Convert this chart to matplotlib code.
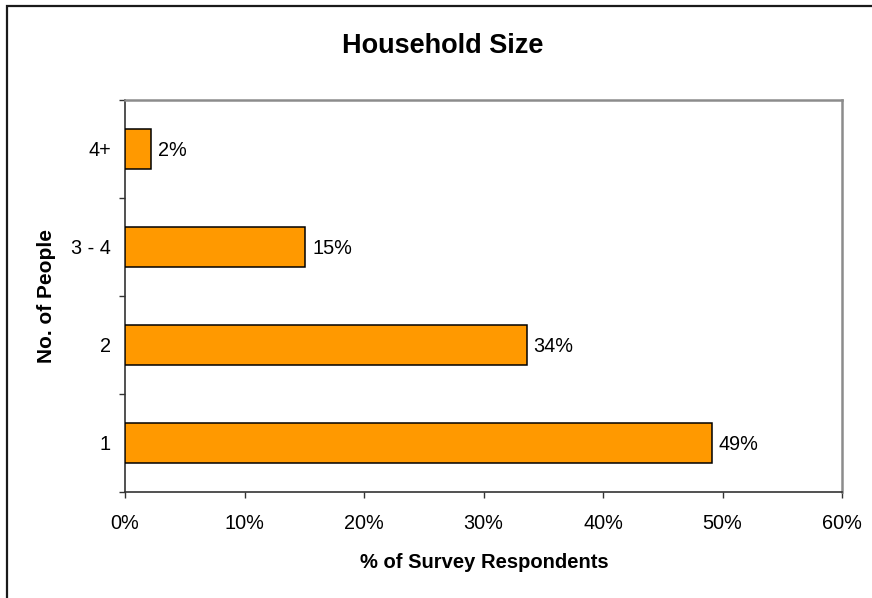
import matplotlib
matplotlib.use("Agg")
import matplotlib.pyplot as plt
from matplotlib.patches import Rectangle
from matplotlib.ticker import FixedLocator, PercentFormatter

plt.rcParams['font.family'] = ['Liberation Sans', 'DejaVu Sans']

# Household size survey results
categories = ["1", "2", "3 - 4", "4+"]
shares = [49.1, 33.6, 15.1, 2.2]          # % of survey respondents
x_ticks = [0, 10, 20, 30, 40, 50, 60]

W, H = 872, 598
fig = plt.figure(figsize=(W / 100, H / 100), dpi=100)
fig.patch.set_facecolor("white")

# outer chart frame (left and top edges visible)
fig.add_artist(Rectangle((7 / W, -0.2), 2.0, 1.2 - 6 / H, transform=fig.transFigure,
                         fill=False, ec="#1a1a1a", lw=1.6))

ax = fig.add_axes([125 / W, 1 - 492 / H, (842 - 125) / W, (492 - 100) / H])

pos = list(range(len(categories)))
ax.barh(pos, shares, height=0.4, color="#FF9900", edgecolor="black", linewidth=1.1, zorder=3)

for y, v in zip(pos, shares):
    ax.annotate(f"{v:.0f}%", (v, y), xytext=(5, -1), textcoords="offset points",
                va="center", ha="left", fontsize=14.3, color="black")

ax.set_xlim(0, 60)
ax.set_ylim(-0.5, 3.5)
ax.set_xticks(x_ticks)
ax.xaxis.set_major_formatter(PercentFormatter(decimals=0))
ax.set_yticks(pos)
ax.set_yticklabels(categories)
ax.yaxis.set_minor_locator(FixedLocator([-0.5, 0.5, 1.5, 2.5, 3.5]))

ax.tick_params(axis="x", which="major", length=4, width=1.0, color="#333333",
               labelsize=14.3, pad=12)
ax.tick_params(axis="y", which="major", length=0, labelsize=14.3, pad=10)
ax.tick_params(axis="y", which="minor", length=4, width=1.0, color="#333333")

for side in ("left", "bottom"):
    ax.spines[side].set_color("#333333")
    ax.spines[side].set_linewidth(1.2)
for side in ("top", "right"):
    ax.spines[side].set_color("#8c8c8c")
    ax.spines[side].set_linewidth(1.8)

fig.text(443 / W, 1 - 53 / H, "Household Size", ha="center", va="baseline",
         fontsize=19.5, fontweight="bold")
fig.text(484 / W, 1 - 568 / H, "% of Survey Respondents", ha="center", va="baseline",
         fontsize=14.5, fontweight="bold")
fig.text(46 / W, 1 - 296 / H, "No. of People", ha="center", va="center", rotation=90,
         fontsize=15, fontweight="bold")

fig.savefig("out.png", dpi=100, facecolor="white")
